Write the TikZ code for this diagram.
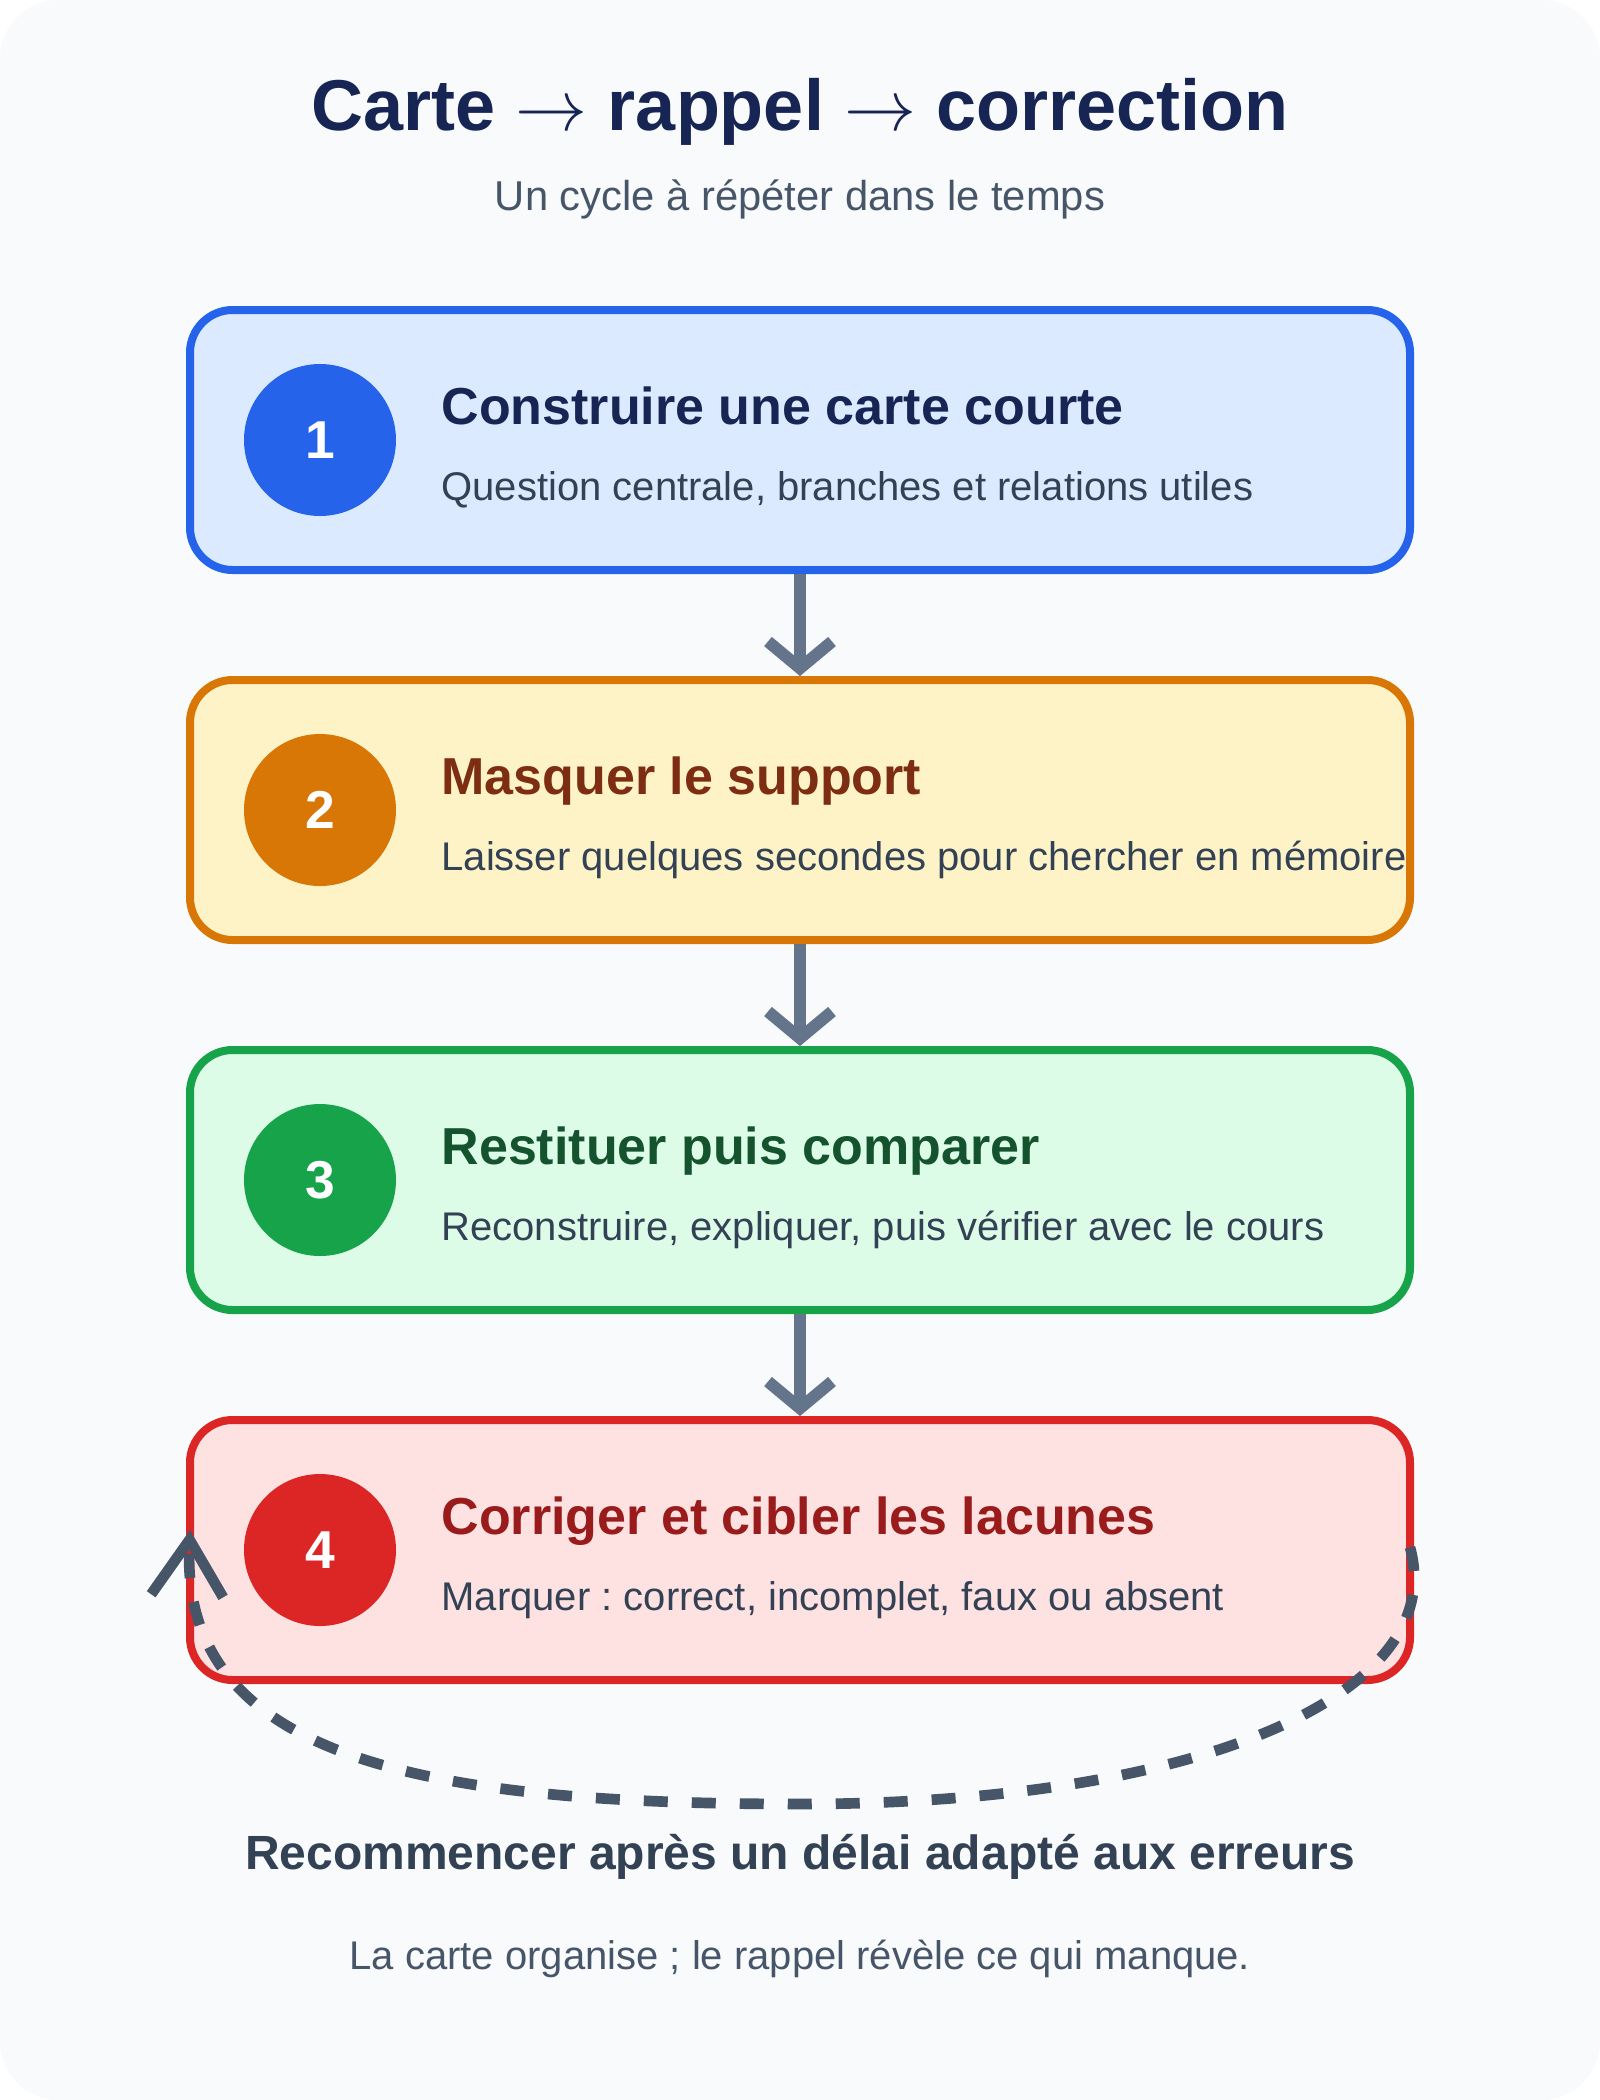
\RequirePackage{fix-cm}
\documentclass[tikz,border=0pt]{standalone}
\usepackage{fontspec}
\setmainfont{Liberation Sans}
\usepackage{xcolor}
\usetikzlibrary{arrows.meta}
\frenchspacing
\definecolor{fond}{HTML}{F8FAFC}
\definecolor{fond1}{HTML}{DBEAFE}
\definecolor{trait1}{HTML}{2563EB}
\definecolor{titre1}{HTML}{172554}
\definecolor{fond2}{HTML}{FEF3C7}
\definecolor{trait2}{HTML}{D97706}
\definecolor{titre2}{HTML}{7C2D12}
\definecolor{fond3}{HTML}{DCFCE7}
\definecolor{trait3}{HTML}{16A34A}
\definecolor{titre3}{HTML}{14532D}
\definecolor{fond4}{HTML}{FEE2E2}
\definecolor{trait4}{HTML}{DC2626}
\definecolor{titre4}{HTML}{991B1B}
\definecolor{encre}{HTML}{334155}
\definecolor{ardoise}{HTML}{475569}
\definecolor{gris}{HTML}{64748B}
\tikzset{%
    carte/.style={%
        line width=6pt, rounded corners=32pt, inner sep=0pt,
        minimum width=915pt, minimum height=195pt},
    pastille/.style={%
        circle, minimum size=114pt, inner sep=0pt, text=white,
        font=\bfseries\fontsize{40}{40}\selectfont},
    entete/.style={anchor=base west, inner sep=0pt, font=\bfseries\fontsize{39}{39}\selectfont},
    detail/.style={anchor=base west, inner sep=0pt, text=encre, font=\fontsize{30}{30}\selectfont},
    fleche/.style={draw=gris, line width=9pt, -{Straight Barb[length=20pt,width=48pt]}},
    boucle/.style={%
        draw=ardoise, line width=8pt, dash pattern=on 18pt off 18pt,
        -{Straight Barb[length=42pt,width=54pt]}}
}

\begin{document}
\begin{tikzpicture}[x=1pt,y=-1pt]
    \useasboundingbox (0,0) rectangle (1200,1575);
    \fill[white] (0,0) rectangle (1200,1575);
    \fill[fond, rounded corners=44pt] (0,0) rectangle (1200,1575);
    \node[anchor=base, inner sep=0pt, text=titre1, font=\bfseries\fontsize{54}{54}\selectfont]
        (titre) at (600,98) {Carte $\rightarrow$ rappel $\rightarrow$ correction};
    \node[anchor=base, inner sep=0pt, text=ardoise, font=\fontsize{31.3}{31.3}\selectfont]
        (soustitre) at (600,158) {Un cycle à répéter dans le temps};
    \foreach \i/\nom/\texte in {%
        1/{Construire une carte courte}/{Question centrale, branches et relations utiles},
        2/{Masquer le support}/{Laisser quelques secondes pour chercher en mémoire},
        3/{Restituer puis comparer}/{Reconstruire, expliquer, puis vérifier avec le cours},
        4/{Corriger et cibler les lacunes}/{Marquer : correct, incomplet, faux ou absent}}
    {
    \pgfmathsetmacro\yc{330+277.5*(\i-1)}
    \node[carte, draw=trait\i, fill=fond\i] (carte\i) at (600,\yc) {};
    \node[pastille, fill=trait\i] (num\i) at (240,\yc) {\i};
    \node[entete, text=titre\i] (nom\i) at (331,\yc-12) {\nom};
    \node[detail] (texte\i) at (331,\yc+45) {\texte};
    }
    \foreach \a/\b in {1/2,2/3,3/4}
    {
    \draw[fleche] (carte\a) -- (carte\b);
    }
    \coordinate (bas) at (600,1353);
    \draw[boucle] ([xshift=-3pt,yshift=2pt]carte4.east)
        .. controls +(30,110) and +(300,0) .. (bas)
        .. controls +(-280,0) and +(-7.5,172.5) .. ([xshift=3pt,yshift=15pt]carte4.west);
    \node[anchor=base, inner sep=0pt, text=encre, font=\bfseries\fontsize{36}{36}\selectfont]
        (relance) at (600,1402) {Recommencer après un délai adapté aux erreurs};
    \node[anchor=base, inner sep=0pt, text=ardoise, font=\fontsize{30}{30}\selectfont]
        (morale) at (600,1477) {La carte organise ; le rappel révèle ce qui manque.};
\end{tikzpicture}
\end{document}
